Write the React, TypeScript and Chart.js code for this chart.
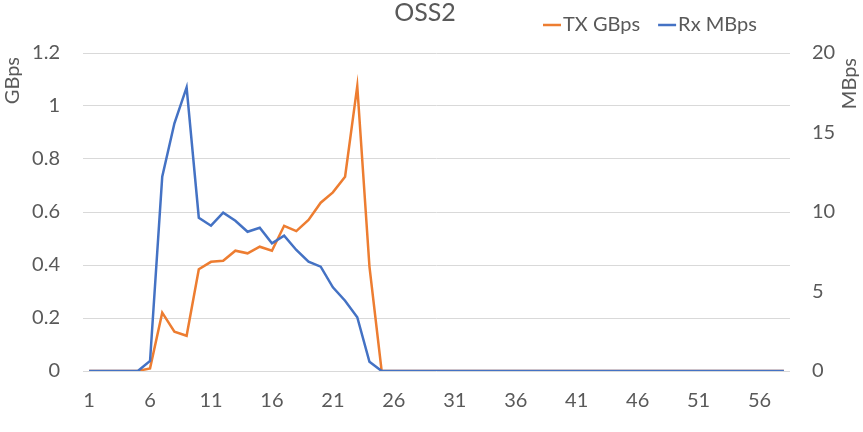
import { useEffect, useRef } from "react";
import { Chart, registerables } from "chart.js";

Chart.register(...registerables);

// chart data
const TITLE = "OSS2";
const categories = [
  "1", "2", "3", "4", "5", "6", "7", "8", "9", "10",
  "11", "12", "13", "14", "15", "16", "17", "18", "19", "20",
  "21", "22", "23", "24", "25", "26", "27", "28", "29", "30",
  "31", "32", "33", "34", "35", "36", "37", "38", "39", "40",
  "41", "42", "43", "44", "45", "46", "47", "48", "49", "50",
  "51", "52", "53", "54", "55", "56", "57", "58",
];
const txGBps = [
  0, 0, 0, 0, 0, 0.01, 0.22, 0.148, 0.133, 0.384,
  0.412, 0.416, 0.454, 0.444, 0.469, 0.454, 0.548, 0.528, 0.57, 0.635,
  0.674, 0.733, 1.075, 0.394, 0, 0, 0, 0, 0, 0,
  0, 0, 0, 0, 0, 0, 0, 0, 0, 0,
  0, 0, 0, 0, 0, 0, 0, 0, 0, 0,
  0, 0, 0, 0, 0, 0, 0, 0,
];
const rxMBps = [
  0, 0, 0, 0, 0, 0.63, 12.22, 15.58, 17.84, 9.64,
  9.14, 9.96, 9.45, 8.76, 9.01, 8.03, 8.51, 7.61, 6.87, 6.56,
  5.26, 4.42, 3.38, 0.58, 0, 0, 0, 0, 0, 0,
  0, 0, 0, 0, 0, 0, 0, 0, 0, 0,
  0, 0, 0, 0, 0, 0, 0, 0, 0, 0,
  0, 0, 0, 0, 0, 0, 0, 0,
];
const seriesNames = ["TX GBps", "Rx MBps"];
const seriesColors = ["#ED7D31", "#4472C4"];
const leftTicks = [0, 0.2, 0.4, 0.6, 0.8, 1, 1.2];
const rightTicks = [0, 5, 10, 15, 20];
const leftTitle = "GBps";
const rightTitle = "MBps";

const TEXT = "#595959";
const FONT = "Lato";

// title, legend and the two axis titles, drawn like Excel places them
const decorPlugin = {
  id: "decor",
  afterDraw(chart: Chart) {
    const ctx = chart.ctx;
    ctx.save();
    ctx.fillStyle = TEXT;
    ctx.textBaseline = "middle";

    ctx.font = `25px ${FONT}`;
    ctx.textAlign = "center";
    ctx.fillText(TITLE, 425, 13);

    // legend
    ctx.font = `20px ${FONT}`;
    ctx.textAlign = "left";
    let x = 543;
    seriesNames.forEach((name, i) => {
      ctx.strokeStyle = seriesColors[i];
      ctx.lineWidth = 2.5;
      ctx.beginPath();
      ctx.moveTo(x, 25);
      ctx.lineTo(x + 18, 25);
      ctx.stroke();
      ctx.fillText(name, x + 20, 25);
      x += 20 + ctx.measureText(name).width + 18;
    });

    // axis titles, both reading bottom to top
    ctx.textAlign = "right";
    ctx.save();
    ctx.translate(13, 57);
    ctx.rotate(-Math.PI / 2);
    ctx.fillText(leftTitle, 0, 0);
    ctx.restore();
    ctx.save();
    ctx.translate(850, 58);
    ctx.rotate(-Math.PI / 2);
    ctx.fillText(rightTitle, 0, 0);
    ctx.restore();

    ctx.restore();
  },
};

export default function App() {
  const canvasRef = useRef<HTMLCanvasElement | null>(null);
  const chartRef = useRef<Chart | null>(null);

  useEffect(() => {
    if (!canvasRef.current) return;
    if (chartRef.current) chartRef.current.destroy();

    const tickFont = { family: FONT, size: 20 };

    chartRef.current = new Chart(canvasRef.current, {
      type: "line",
      data: {
        labels: categories,
        datasets: [
          {
            label: seriesNames[0],
            data: txGBps,
            borderColor: seriesColors[0],
            backgroundColor: seriesColors[0],
            borderWidth: 2.5,
            pointRadius: 0,
            tension: 0,
            yAxisID: "y",
            order: 1,
          },
          {
            label: seriesNames[1],
            data: rxMBps,
            borderColor: seriesColors[1],
            backgroundColor: seriesColors[1],
            borderWidth: 2.5,
            pointRadius: 0,
            tension: 0,
            yAxisID: "y1",
            order: 0,
          },
        ],
      },
      options: {
        animation: false,
        responsive: true,
        maintainAspectRatio: false,
        layout: { padding: { top: 53, left: 0, right: 0, bottom: 0 } },
        plugins: {
          legend: { display: false },
          title: { display: false },
          tooltip: { enabled: false },
        },
        scales: {
          x: {
            offset: true,
            grid: { display: false },
            border: { display: false },
            ticks: {
              autoSkip: false,
              maxRotation: 0,
              color: TEXT,
              font: tickFont,
              padding: 10,
              callback: (_v: any, i: number) => (i % 5 === 0 ? categories[i] : ""),
            },
            afterFit: (s: any) => {
              s.height = 61;
            },
          },
          y: {
            position: "left",
            min: leftTicks[0],
            max: leftTicks[leftTicks.length - 1],
            grid: { color: "#D9D9D9", lineWidth: 1, drawTicks: false },
            border: { display: false },
            afterBuildTicks: (s: any) => {
              s.ticks = leftTicks.map((v) => ({ value: v }));
            },
            ticks: {
              color: TEXT,
              font: tickFont,
              padding: 23,
              callback: (v: any) => String(Number(Number(v).toFixed(2))),
            },
            afterFit: (s: any) => {
              s.width = 83;
            },
          },
          y1: {
            position: "right",
            min: rightTicks[0],
            max: rightTicks[rightTicks.length - 1],
            grid: { display: false, drawTicks: false },
            border: { display: false },
            afterBuildTicks: (s: any) => {
              s.ticks = rightTicks.map((v) => ({ value: v }));
            },
            ticks: { color: TEXT, font: tickFont, padding: 22 },
            afterFit: (s: any) => {
              s.width = 73;
            },
          },
        },
      },
      plugins: [decorPlugin],
    });

    return () => {
      if (chartRef.current) {
        chartRef.current.destroy();
        chartRef.current = null;
      }
    };
  }, []);

  return (
    <div style={{ position: "fixed", left: 0, top: 0, width: 863, height: 432, background: "#fff" }}>
      <canvas ref={canvasRef} />
    </div>
  );
}
